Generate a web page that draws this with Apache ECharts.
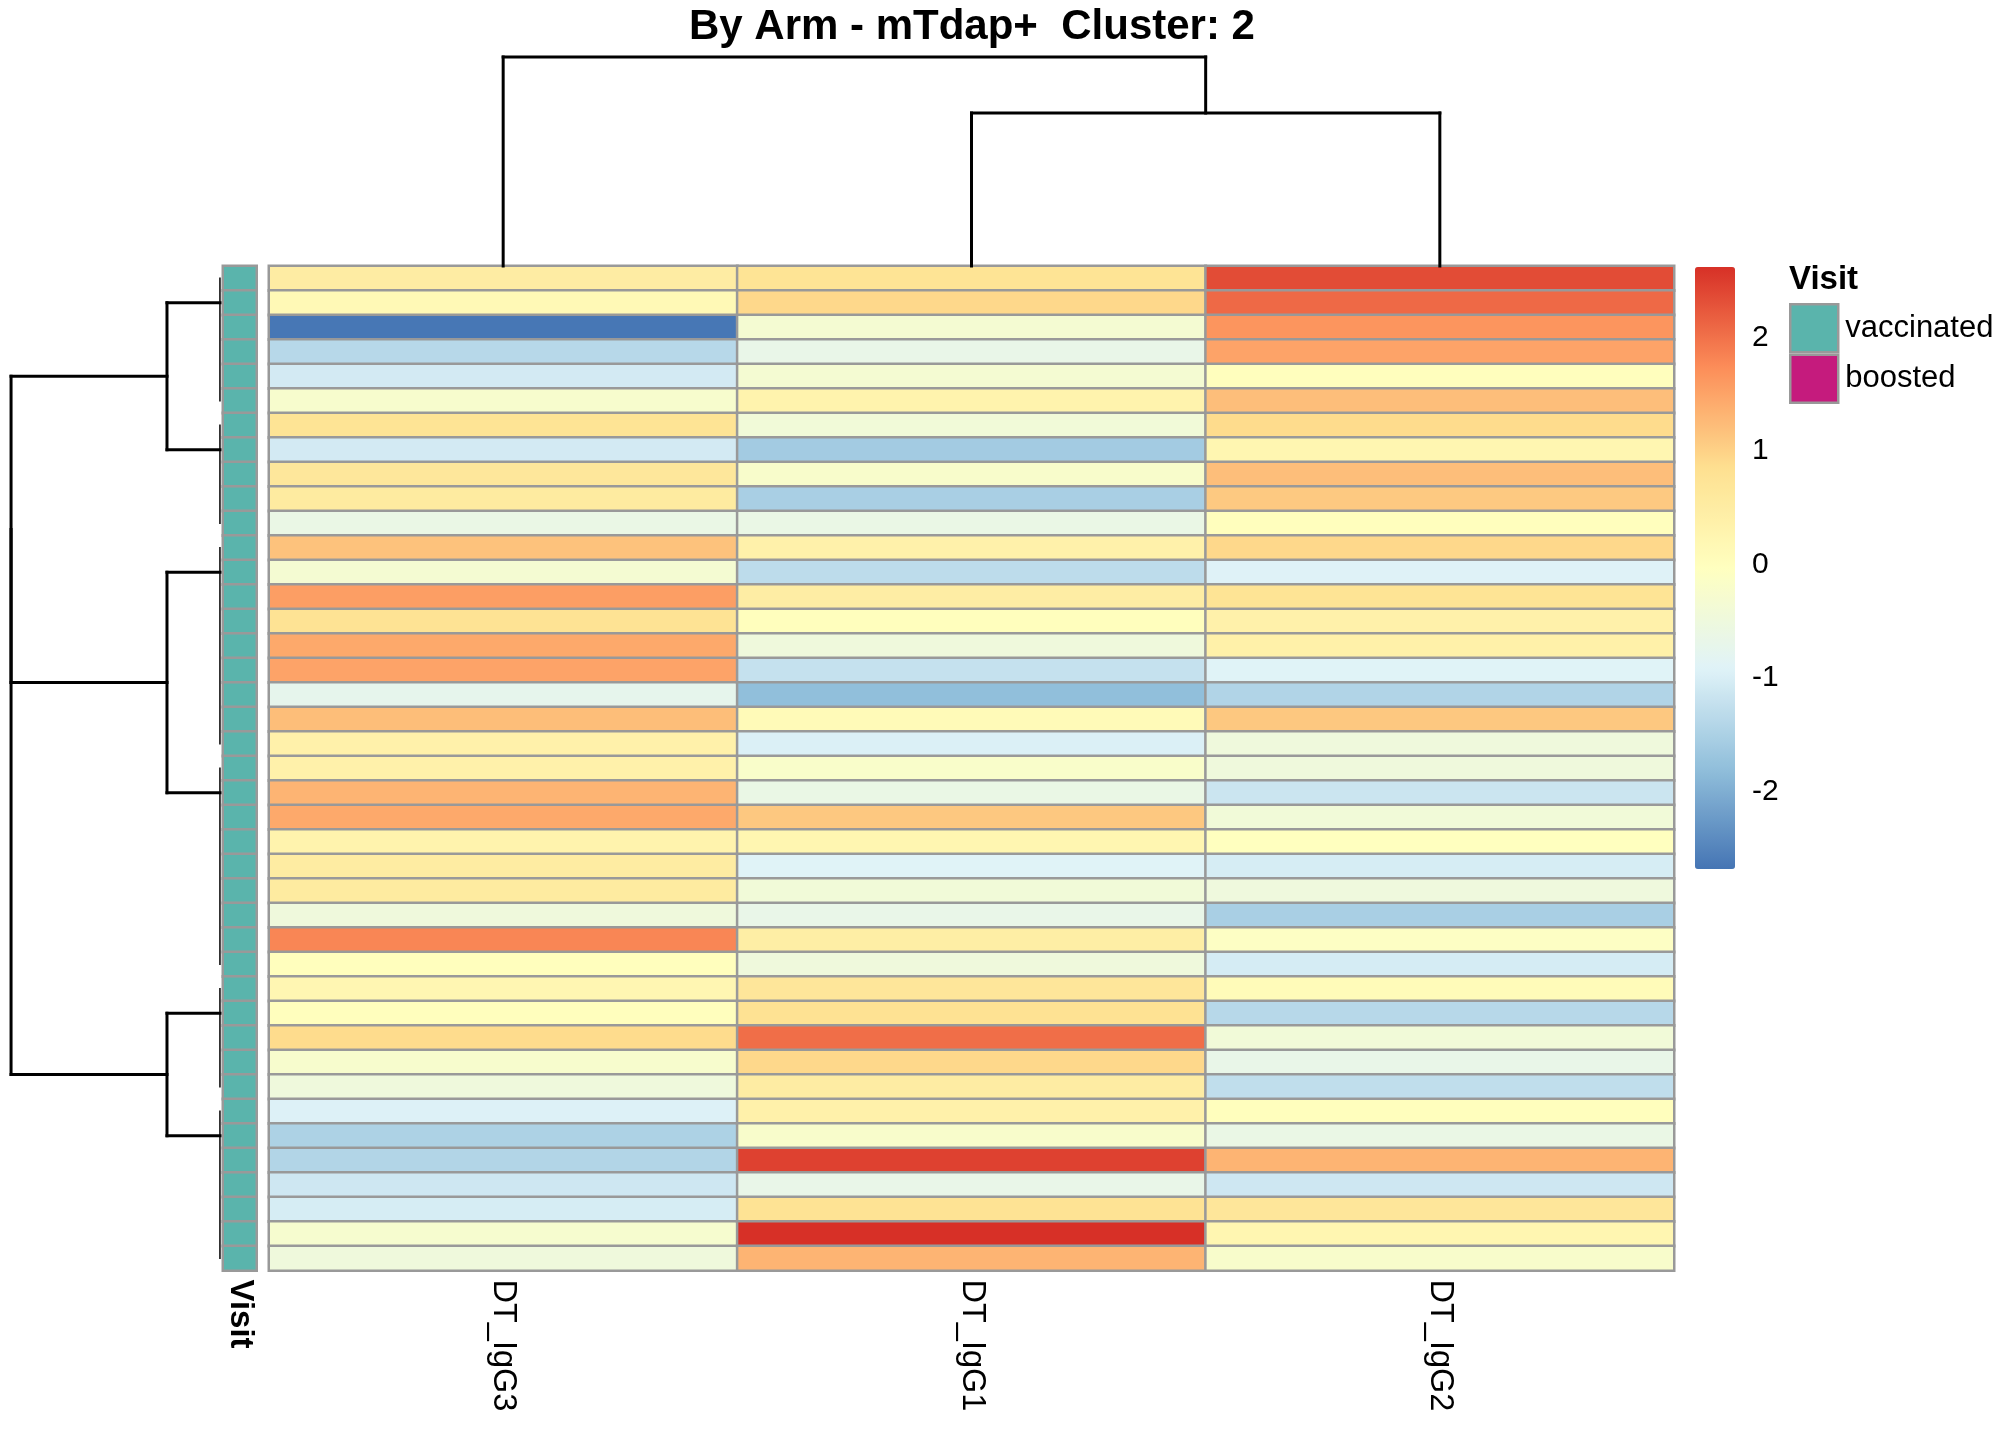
<!DOCTYPE html>
<html>
<head>
<meta charset="utf-8">
<title>By Arm - mTdap+ Cluster: 2</title>
<script src="https://cdn.jsdelivr.net/npm/echarts@6/dist/echarts.min.js"></script>
<style>
  html, body { margin: 0; padding: 0; background: #fff; }
  #chart { width: 2016px; height: 1440px; }
</style>
</head>
<body>
<div id="chart"></div>
<script>
// column order as drawn (after clustering)
var colNames = ['DT_IgG3', 'DT_IgG1', 'DT_IgG2'];

// scaled values, one array per column, top row first
var igG3 = [0.50, 0.13, -2.66, -1.37, -1.06, -0.25, 0.75, -1.06, 0.64, 0.55, -0.62, 1.17, -0.33, 1.56,
    0.78, 1.44, 1.50, -0.73, 1.22, 0.36, 0.36, 1.32, 1.44, 0.30, 0.52, 0.55, -0.48, 1.80,
    0.00, 0.22, 0.00, 0.90, -0.25, -0.48, -0.95, -1.48, -1.43, -1.11, -1.02, -0.28, -0.48];
var igG1 = [0.75, 0.94, -0.33, -0.67, -0.33, 0.30, -0.42, -1.59, -0.22, -1.53, -0.62, 0.36, -1.31, 0.47,
    0.00, -0.48, -1.22, -1.80, 0.10, -0.97, -0.20, -0.62, 1.11, 0.24, -0.90, -0.42, -0.67, 0.45,
    -0.48, 0.67, 0.80, 2.03, 0.94, 0.50, 0.36, -0.22, 2.46, -0.67, 0.78, 2.62, 1.32];
var igG2 = [2.35, 2.08, 1.65, 1.50, 0.00, 1.21, 0.90, 0.24, 1.21, 1.10, 0.00, 0.94, -0.93, 0.75,
    0.36, 0.38, -0.90, -1.44, 1.11, -0.48, -0.48, -1.15, -0.42, -0.03, -1.02, -0.50, -1.53, -0.10,
    -1.04, 0.08, -1.37, -0.42, -0.67, -1.27, 0.00, -0.62, 1.32, -1.11, 0.67, 0.24, -0.22];

// Visit annotation, every row is vaccinated here
var visitLevels = ['vaccinated', 'boosted'];
var visitColors = ['#5AB4AC', '#C51B7D'];
var visit = ['vaccinated', 'vaccinated', 'vaccinated', 'vaccinated', 'vaccinated', 'vaccinated', 'vaccinated',
    'vaccinated', 'vaccinated', 'vaccinated', 'vaccinated', 'vaccinated', 'vaccinated', 'vaccinated',
    'vaccinated', 'vaccinated', 'vaccinated', 'vaccinated', 'vaccinated', 'vaccinated', 'vaccinated',
    'vaccinated', 'vaccinated', 'vaccinated', 'vaccinated', 'vaccinated', 'vaccinated', 'vaccinated',
    'vaccinated', 'vaccinated', 'vaccinated', 'vaccinated', 'vaccinated', 'vaccinated', 'vaccinated',
    'vaccinated', 'vaccinated', 'vaccinated', 'vaccinated', 'vaccinated', 'vaccinated'];

// colour scale ticks
var scaleTicks = [-2, -1, 0, 1, 2];
var scaleMin = -2.68, scaleMax = 2.62;
var palette = ['#4575B4', '#91BFDB', '#E0F3F8', '#FFFFBF', '#FEE090', '#FC8D59', '#D73027'];

// column dendrogram, hclust style: negative = leaf, positive = earlier merge
var colMerge = [[-2, -3], [-1, 1]];
var colHeight = [0.732, 1.0];

// row dendrogram: tight leaf groups [first row, last row, attach row]
var rowGroups = [[0, 5, 1], [6, 10, 7], [11, 19, 12], [20, 28, 21], [29, 33, 30], [34, 40, 35]];
var rowGroupHeight = 0.005;
var rowMerge = [[-1, -2], [-3, -4], [-5, -6], [1, 2], [4, 3]];
var rowHeight = [0.256, 0.256, 0.256, 0.995, 0.995];

var nRows = igG3.length;
var rowNames = [];
for (var i = 0; i < nRows; i++) rowNames.push('row' + (i + 1));

var cols = [igG3, igG1, igG2];
var heatData = [];
cols.forEach(function (col, c) {
    col.forEach(function (v, r) { heatData.push([c, r, v]); });
});

var visitData = {};
visitLevels.forEach(function (lv) { visitData[lv] = []; });
visit.forEach(function (lv, r) { visitData[lv].push([0, r, 1]); });

// segments [pos1, h1, pos2, h2, width] from merge table
function treeSegments(leafNodes, merge, heights, width) {
    var nodes = [];
    var segs = [];
    function node(id) { return id < 0 ? leafNodes[-id - 1] : nodes[id - 1]; }
    merge.forEach(function (m, i) {
        var a = node(m[0]), b = node(m[1]), h = heights[i];
        segs.push([a.pos, a.h, a.pos, h, width]);
        segs.push([b.pos, b.h, b.pos, h, width]);
        segs.push([a.pos, h, b.pos, h, width]);
        nodes.push({ pos: (a.pos + b.pos) / 2, h: h });
    });
    return segs;
}

var colLeaves = colNames.map(function (n, i) { return { pos: i, h: 0 }; });
var colSegs = treeSegments(colLeaves, colMerge, colHeight, 3);

var rowLeaves = rowGroups.map(function (g) { return { pos: g[2], h: rowGroupHeight }; });
var rowSegs = treeSegments(rowLeaves, rowMerge, rowHeight, 3);
rowGroups.forEach(function (g) {
    rowSegs.push([g[0], rowGroupHeight, g[1], rowGroupHeight, 1.5]);
});
// row tree is drawn sideways: [height, row]
var rowSegsXY = rowSegs.map(function (s) { return [s[1], s[0], s[3], s[2], s[4]]; });

function drawSeg(params, api) {
    var p1 = api.coord([api.value(0), api.value(1)]);
    var p2 = api.coord([api.value(2), api.value(3)]);
    return {
        type: 'line',
        shape: { x1: p1[0], y1: p1[1], x2: p2[0], y2: p2[1] },
        style: { stroke: '#000', lineWidth: api.value(4), lineCap: 'square' }
    };
}

var font = 'Liberation Sans';
var cellBorder = { borderColor: '#999999', borderWidth: 2.5 };

var chart = echarts.init(document.getElementById('chart'));
var option = {
    backgroundColor: '#fff',
    animation: false,
    title: [{
        text: 'By Arm - mTdap+  Cluster: 2',
        left: 689, top: 6, padding: 0,
        textStyle: { fontFamily: font, fontSize: 42, fontWeight: 'bold', color: '#000' }
    }, {
        text: 'Visit',
        left: 1789, top: 263, padding: 0,
        textStyle: { fontFamily: font, fontSize: 33, fontWeight: 'bold', color: '#000' }
    }],
    legend: {
        data: visitLevels,
        orient: 'vertical',
        left: 1789, top: 303, padding: 0,
        itemWidth: 48, itemHeight: 48, itemGap: 0,
        icon: 'rect',
        selectedMode: false,
        itemStyle: { borderColor: '#999999', borderWidth: 2.5 },
        textStyle: { fontFamily: font, fontSize: 31, color: '#000', padding: [0, 0, 0, 2] }
    },
    visualMap: {
        type: 'continuous',
        seriesIndex: 0,
        min: scaleMin, max: scaleMax,
        calculable: false, hoverLink: false,
        left: 1695, top: 267, padding: 0,
        itemWidth: 40, itemHeight: 602,
        text: null, showLabel: false,
        inRange: { color: palette }
    },
    grid: [
        { left: 269, top: 266, width: 1405, height: 1004.5 },   // heatmap
        { left: 223, top: 266, width: 33.5, height: 1004.5 },   // Visit annotation
        { left: 269, top: 57, width: 1405, height: 209 },       // column tree
        { left: 10, top: 266, width: 211, height: 1004.5 },     // row tree
        { left: 1695, top: 267, width: 40, height: 602 }        // colour scale ticks
    ],
    xAxis: [
        {
            gridIndex: 0, type: 'category', data: colNames, position: 'bottom',
            axisLine: { show: false }, axisTick: { show: false }, splitLine: { show: false },
            axisLabel: { rotate: -90, margin: 9, fontFamily: font, fontSize: 32.5, color: '#000' }
        },
        {
            gridIndex: 1, type: 'category', data: ['Visit'], position: 'bottom',
            axisLine: { show: false }, axisTick: { show: false },
            axisLabel: { rotate: -90, margin: 9, fontFamily: font, fontSize: 33, fontWeight: 'bold', color: '#000' }
        },
        { gridIndex: 2, type: 'value', min: -0.5, max: colNames.length - 0.5, show: false },
        { gridIndex: 3, type: 'value', min: 0, max: 1, inverse: true, show: false },
        { gridIndex: 4, type: 'value', min: 0, max: 1, show: false }
    ],
    yAxis: [
        { gridIndex: 0, type: 'category', data: rowNames, inverse: true, show: false },
        { gridIndex: 1, type: 'category', data: rowNames, inverse: true, show: false },
        { gridIndex: 2, type: 'value', min: 0, max: 1, show: false },
        { gridIndex: 3, type: 'value', min: -0.5, max: nRows - 0.5, inverse: true, show: false },
        {
            gridIndex: 4, type: 'value', min: scaleMin, max: scaleMax, position: 'right',
            axisLine: { show: false }, axisTick: { show: false }, splitLine: { show: false },
            axisLabel: {
                customValues: scaleTicks, margin: 17,
                fontFamily: font, fontSize: 30, color: '#000'
            }
        }
    ],
    series: [
        {
            name: 'value', type: 'heatmap', xAxisIndex: 0, yAxisIndex: 0,
            data: heatData, itemStyle: cellBorder, emphasis: { disabled: true }
        },
        {
            name: visitLevels[0], type: 'heatmap', xAxisIndex: 1, yAxisIndex: 1,
            data: visitData[visitLevels[0]],
            itemStyle: { color: visitColors[0], borderColor: '#999999', borderWidth: 2.5 },
            emphasis: { disabled: true }
        },
        {
            name: visitLevels[1], type: 'heatmap', xAxisIndex: 1, yAxisIndex: 1,
            data: visitData[visitLevels[1]],
            itemStyle: { color: visitColors[1], borderColor: '#999999', borderWidth: 2.5 },
            emphasis: { disabled: true }
        },
        {
            name: 'colTree', type: 'custom', xAxisIndex: 2, yAxisIndex: 2,
            renderItem: drawSeg, data: colSegs, clip: false, silent: true
        },
        {
            name: 'rowTree', type: 'custom', xAxisIndex: 3, yAxisIndex: 3,
            renderItem: drawSeg, data: rowSegsXY, clip: false, silent: true
        }
    ]
};
chart.setOption(option);
</script>
</body>
</html>
